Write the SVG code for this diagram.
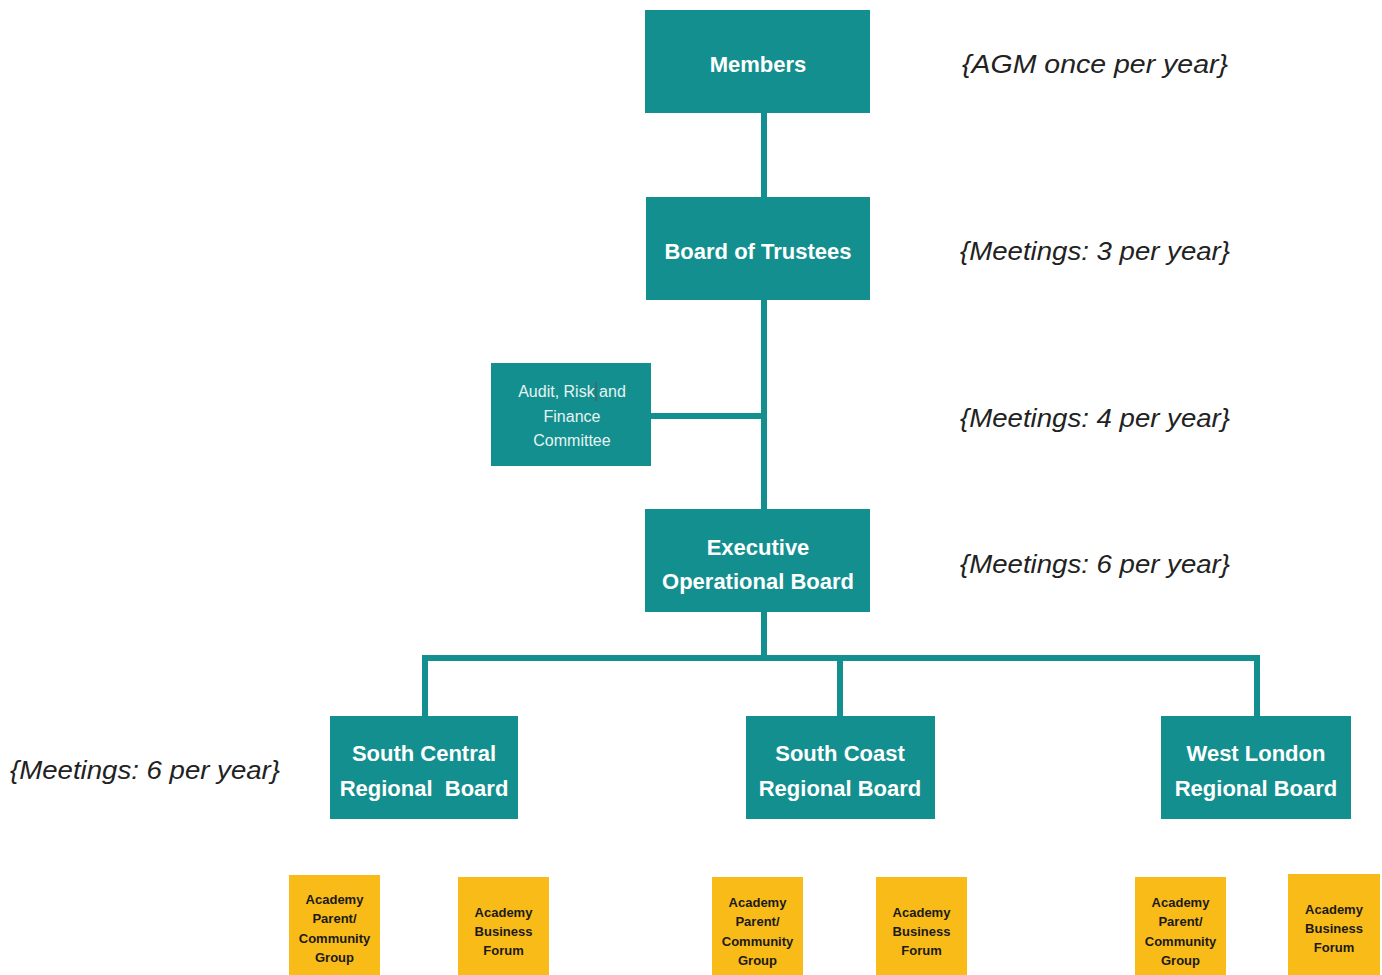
<svg xmlns="http://www.w3.org/2000/svg" width="1382" height="975" viewBox="0 0 1382 975">
<style>
.node{fill:#148f8f}
.yel{fill:#f9bb17}
.nt{font-family:"Liberation Sans",Arial,sans-serif;font-weight:bold;font-size:22px;fill:#ffffff;text-anchor:middle;dominant-baseline:central}
.at{font-family:"Liberation Sans",Arial,sans-serif;font-size:16px;fill:#e6f4f2;text-anchor:middle;dominant-baseline:central}
.yt{font-family:"Liberation Sans",Arial,sans-serif;font-weight:bold;font-size:13px;fill:#1a1a1a;text-anchor:middle;dominant-baseline:central}
.note{font-family:"Liberation Sans",Arial,sans-serif;font-style:italic;font-size:25px;fill:#222222;dominant-baseline:central}
.conn{stroke:#148f8f;stroke-width:6;fill:none}
</style>
<rect width="1382" height="975" fill="#ffffff"/>
<g id="connectors">
<line class="conn" x1="764" y1="113" x2="764" y2="197"/>
<line class="conn" x1="764" y1="300" x2="764" y2="509"/>
<line class="conn" x1="651" y1="416" x2="764" y2="416"/>
<line class="conn" x1="764" y1="612" x2="764" y2="658"/>
<polyline class="conn" points="425,716 425,658 1257,658 1257,716"/>
<line class="conn" x1="840" y1="658" x2="840" y2="716"/>
</g>
<g id="members"><rect class="node" x="645" y="10" width="225" height="103"/><text class="nt" x="758" y="64">Members</text></g>
<g id="trustees"><rect class="node" x="646" y="197" width="224" height="103"/><text class="nt" x="758" y="251">Board of Trustees</text></g>
<g id="audit"><rect class="node" x="491" y="363" width="160" height="103"/>
<text class="at" x="572" y="391">Audit, Risk and</text><text class="at" x="572" y="416">Finance</text><text class="at" x="572" y="440">Committee</text>
<line x1="596" y1="382" x2="596" y2="401" stroke="#555555" stroke-width="1"/></g>
<g id="executive"><rect class="node" x="645" y="509" width="225" height="103"/><text class="nt" x="758" y="547">Executive</text><text class="nt" x="758" y="581">Operational Board</text></g>
<g id="south-central"><rect class="node" x="330" y="716" width="188" height="103"/><text class="nt" x="424" y="753">South Central</text><text class="nt" x="424" y="788" xml:space="preserve">Regional  Board</text></g>
<g id="south-coast"><rect class="node" x="746" y="716" width="189" height="103"/><text class="nt" x="840" y="753">South Coast</text><text class="nt" x="840" y="788">Regional Board</text></g>
<g id="west-london"><rect class="node" x="1161" y="716" width="190" height="103"/><text class="nt" x="1256" y="753">West London</text><text class="nt" x="1256" y="788">Regional Board</text></g>
<g id="sc-parent"><rect class="yel" x="289" y="875" width="91" height="100"/><text class="yt" x="334.5" y="899">Academy</text><text class="yt" x="334.5" y="918">Parent/</text><text class="yt" x="334.5" y="938">Community</text><text class="yt" x="334.5" y="957">Group</text></g>
<g id="sc-business"><rect class="yel" x="458" y="877" width="91" height="98"/><text class="yt" x="503.5" y="912">Academy</text><text class="yt" x="503.5" y="931">Business</text><text class="yt" x="503.5" y="950">Forum</text></g>
<g id="sco-parent"><rect class="yel" x="712" y="877" width="91" height="98"/><text class="yt" x="757.5" y="902">Academy</text><text class="yt" x="757.5" y="921">Parent/</text><text class="yt" x="757.5" y="941">Community</text><text class="yt" x="757.5" y="960">Group</text></g>
<g id="sco-business"><rect class="yel" x="876" y="877" width="91" height="98"/><text class="yt" x="921.5" y="912">Academy</text><text class="yt" x="921.5" y="931">Business</text><text class="yt" x="921.5" y="950">Forum</text></g>
<g id="wl-parent"><rect class="yel" x="1135" y="877" width="91" height="98"/><text class="yt" x="1180.5" y="902">Academy</text><text class="yt" x="1180.5" y="921">Parent/</text><text class="yt" x="1180.5" y="941">Community</text><text class="yt" x="1180.5" y="960">Group</text></g>
<g id="wl-business"><rect class="yel" x="1288" y="874" width="92" height="101"/><text class="yt" x="1334" y="909">Academy</text><text class="yt" x="1334" y="928">Business</text><text class="yt" x="1334" y="947">Forum</text></g>
<g id="notes">
<text class="note" x="962" y="64" textLength="266" lengthAdjust="spacingAndGlyphs">{AGM once per year}</text>
<text class="note" x="960" y="251" textLength="270" lengthAdjust="spacingAndGlyphs">{Meetings: 3 per year}</text>
<text class="note" x="960" y="418" textLength="270" lengthAdjust="spacingAndGlyphs">{Meetings: 4 per year}</text>
<text class="note" x="960" y="564" textLength="270" lengthAdjust="spacingAndGlyphs">{Meetings: 6 per year}</text>
<text class="note" x="10" y="770" textLength="270" lengthAdjust="spacingAndGlyphs">{Meetings: 6 per year}</text>
</g>
</svg>
